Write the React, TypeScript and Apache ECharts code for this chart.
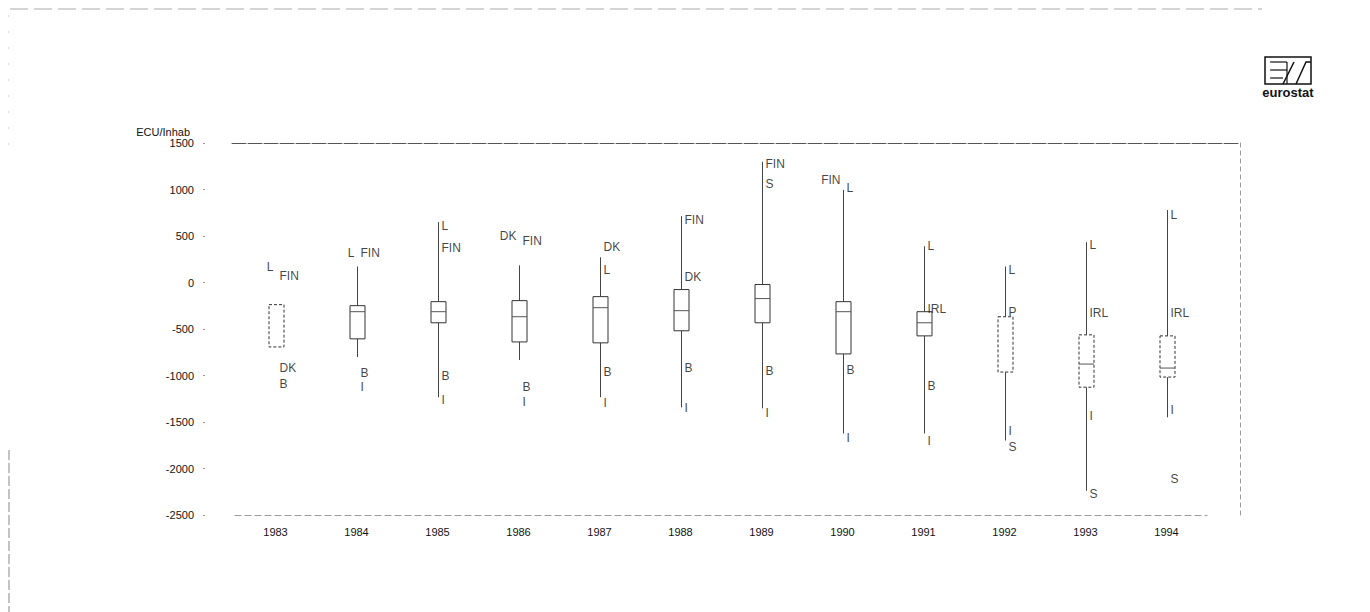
import React, { useEffect, useRef } from "react";
import * as echarts from "echarts";

const years = ["1983", "1984", "1985", "1986", "1987", "1988", "1989", "1990", "1991", "1992", "1993", "1994"];
const whiskerMin = [-693, -801, -1234, -833, -1234, -1342, -1353, -1623, -1623, -1699, -2240, -1450];
const q1 = [-693, -606, -433, -639, -649, -519, -433, -768, -574, -963, -1126, -1017];
const medians: (number | null)[] = [null, -314, -314, -368, -271, -303, -173, -314, -433, null, -877, -920];
const q3 = [-238, -249, -206, -195, -152, -76, -22, -206, -314, -368, -563, -574];
const whiskerMax = [-238, 173, 649, 184, 271, 714, 1299, 996, 390, 173, 433, 779];

// country labels: year index, value, text, side
const labelYear = [0, 0, 0, 0, 1, 1, 1, 1, 2, 2, 2, 2, 3, 3, 3, 3, 4, 4, 4, 4, 5, 5, 5, 5, 6, 6, 6, 6, 7, 7, 7, 7, 8, 8, 8, 8, 9, 9, 9, 9, 10, 10, 10, 10, 11, 11, 11, 11];
const labelValue = [162, 65, -920, -1093, 314, 314, -974, -1126, 606, 368, -1006, -1266, 498, 444, -1126, -1288, 379, 130, -963, -1299, 671, 54, -920, -1353, 1277, 1061, -952, -1407, 1104, 1017, -942, -1677, 390, -281, -1115, -1699, 130, -314, -1602, -1764, 400, -325, -1439, -2273, 725, -325, -1374, -2110];
const labelText = ["L", "FIN", "DK", "B", "L", "FIN", "B", "I", "L", "FIN", "B", "I", "DK", "FIN", "B", "I", "DK", "L", "B", "I", "FIN", "DK", "B", "I", "FIN", "S", "B", "I", "FIN", "L", "B", "I", "L", "IRL", "B", "I", "L", "P", "I", "S", "L", "IRL", "I", "S", "L", "IRL", "I", "S"];
const labelSide = ["left", "right", "right", "right", "left", "right", "right", "right", "right", "right", "right", "right", "left", "right", "right", "right", "right", "right", "right", "right", "right", "right", "right", "right", "right", "right", "right", "right", "left", "right", "right", "right", "right", "right", "right", "right", "right", "right", "right", "right", "right", "right", "right", "right", "right", "right", "right", "right"];

const yMin = -2500;
const yMax = 1500;
const yStep = 500;
const yName = "ECU/Inhab";

const FONT = "'Liberation Sans', Arial, Helvetica, sans-serif";
const TEXT = "#111";

export default function App() {
  const ref = useRef<HTMLDivElement>(null);
  useEffect(() => {
    if (!ref.current) return;
    const chart = echarts.init(ref.current, null, { renderer: "svg" });
    const boxData = years.map((_, i) => [i, whiskerMin[i], q1[i], q3[i], whiskerMax[i]]);
    const labelData = labelText.map((t, i) => ({
      name: t,
      value: [labelYear[i], labelValue[i]],
      label: {
        show: true,
        position: labelSide[i],
        distance: labelSide[i] === "left" ? 2 : 4,
        color: TEXT,
        fontSize: 12,
        fontFamily: FONT,
      },
    }));
    const option: any = {
      animation: false,
      backgroundColor: "#ffffff",
      textStyle: { fontFamily: FONT },
      grid: [
        { left: 227, top: 135, width: 972, height: 372 },
        { left: 224, top: 135, width: 1008, height: 372 },
      ],
      xAxis: [
        {
          type: "category",
          gridIndex: 0,
          data: years,
          boundaryGap: true,
          axisLine: { show: true, onZero: false, lineStyle: { color: "#999", type: [6, 4], width: 1 } },
          axisTick: { show: false },
          axisLabel: { color: TEXT, fontSize: 11, fontFamily: FONT, margin: 11 },
          splitLine: { show: false },
        },
        {
          type: "value",
          gridIndex: 1,
          min: 0,
          max: 1,
          position: "top",
          axisLine: { show: true, onZero: false, lineStyle: { color: "#555", type: [14, 2], width: 1 } },
          axisTick: { show: false },
          axisLabel: { show: false },
          splitLine: { show: false },
        },
      ],
      yAxis: [
        {
          type: "value",
          gridIndex: 0,
          min: yMin,
          max: yMax,
          interval: yStep,
          offset: 30,
          name: yName,
          nameLocation: "end",
          nameGap: 5,
          nameTextStyle: { color: TEXT, fontSize: 11, fontFamily: FONT, align: "right", verticalAlign: "bottom", padding: [0, 15, 0, 0] },
          axisLine: { show: false },
          axisTick: { show: true, length: 2, lineStyle: { color: "#999" } },
          axisLabel: { color: TEXT, fontSize: 11, fontFamily: FONT, margin: 11, formatter: (v: number) => String(v) },
          splitLine: { show: false },
        },
        {
          type: "value",
          gridIndex: 1,
          min: 0,
          max: 1,
          position: "right",
          axisLine: { show: true, onZero: false, lineStyle: { color: "#999", type: [4, 4], width: 1 } },
          axisTick: { show: false },
          axisLabel: { show: false },
          splitLine: { show: false },
        },
      ],
      series: [
        {
          type: "custom",
          xAxisIndex: 0,
          yAxisIndex: 0,
          data: boxData,
          encode: { x: 0, y: [1, 2, 3, 4] },
          renderItem: (params: any, api: any) => {
            const i = params.dataIndex;
            const x = api.value(0);
            const pMin = api.coord([x, api.value(1)]);
            const pQ1 = api.coord([x, api.value(2)]);
            const pQ3 = api.coord([x, api.value(3)]);
            const pMax = api.coord([x, api.value(4)]);
            const w = 15;
            const cx = Math.round(pQ1[0]) + 0.5;
            const stroke = "#333";
            const children: any[] = [];
            if (pMax[1] < pQ3[1]) {
              children.push({ type: "line", shape: { x1: cx, y1: pMax[1], x2: cx, y2: pQ3[1] }, style: { stroke: "#444", lineWidth: 1 } });
            }
            if (pMin[1] > pQ1[1]) {
              children.push({ type: "line", shape: { x1: cx, y1: pQ1[1], x2: cx, y2: pMin[1] }, style: { stroke: "#444", lineWidth: 1 } });
            }
            children.push({
              type: "rect",
              shape: { x: cx - w / 2, y: pQ3[1], width: w, height: pQ1[1] - pQ3[1] },
              style: { fill: "#fff", stroke, lineWidth: 1, lineDash: i === 0 || i >= 9 ? [3, 2] : null },
            });
            const m = medians[i];
            if (m !== null) {
              const pMed = api.coord([x, m]);
              children.push({ type: "line", shape: { x1: cx - w / 2, y1: pMed[1], x2: cx + w / 2, y2: pMed[1] }, style: { stroke: "#555", lineWidth: 1 } });
            }
            return { type: "group", children };
          },
        },
        {
          type: "scatter",
          xAxisIndex: 0,
          yAxisIndex: 0,
          symbolSize: 0,
          data: labelData,
          label: {
            show: true,
            formatter: (p: any) => p.name,
            color: TEXT,
            fontSize: 12,
            fontFamily: FONT,
          },
          emphasis: { disabled: true },
        },
      ],
      graphic: [
        // eurostat logo
        {
          type: "group",
          children: [
            { type: "rect", shape: { x: 1257, y: 49, width: 46, height: 27 }, style: { fill: "#fff", stroke: "#111", lineWidth: 1.5 } },
            { type: "polyline", shape: { points: [[1262, 54], [1279, 54]] }, style: { stroke: "#111", lineWidth: 1.2, fill: null } },
            { type: "polyline", shape: { points: [[1262, 62], [1279, 62]] }, style: { stroke: "#111", lineWidth: 1.2, fill: null } },
            { type: "polyline", shape: { points: [[1262, 70], [1275, 70]] }, style: { stroke: "#111", lineWidth: 1.2, fill: null } },
            { type: "polyline", shape: { points: [[1279, 54], [1279, 76]] }, style: { stroke: "#111", lineWidth: 1.2, fill: null } },
            { type: "polyline", shape: { points: [[1275, 76], [1286, 54]] }, style: { stroke: "#111", lineWidth: 1.5, fill: null } },
            { type: "polyline", shape: { points: [[1288, 76], [1298, 54], [1303, 54]] }, style: { stroke: "#111", lineWidth: 1.5, fill: null } },
            { type: "text", x: 1280, y: 84, style: { text: "eurostat", font: `bold 13px ${FONT}`, fill: "#111", textAlign: "center", textVerticalAlign: "middle" } },
          ],
        },
        // scan edges
        { type: "line", shape: { x1: 2, y1: 1, x2: 1254, y2: 1 }, style: { stroke: "#aaa", lineWidth: 1, lineDash: [18, 6] } },
        { type: "line", shape: { x1: 0, y1: 7, x2: 0, y2: 137 }, style: { stroke: "#bbb", lineWidth: 1, lineDash: [2, 14] } },
        { type: "line", shape: { x1: 1, y1: 442, x2: 1, y2: 604 }, style: { stroke: "#888", lineWidth: 1, lineDash: [10, 3] } },
        { type: "line", shape: { x1: 1355, y1: 2, x2: 1355, y2: 604 }, style: { stroke: "#999", lineWidth: 1, lineDash: [12, 4] } },
      ],
    };
    chart.setOption(option);
    return () => chart.dispose();
  }, []);
  return <div ref={ref} style={{ width: 1362, height: 604 }} />;
}
